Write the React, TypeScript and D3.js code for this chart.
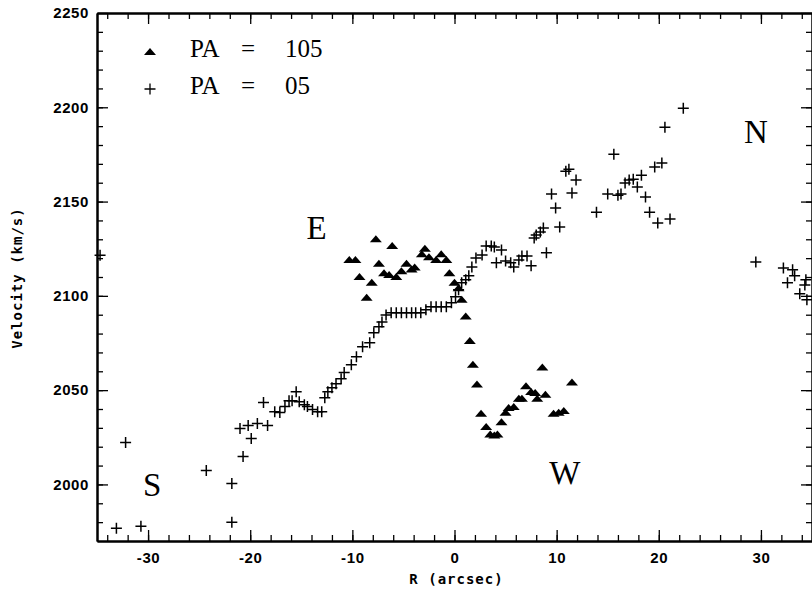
import React, { useEffect, useRef } from "react";
import * as d3 from "d3";

// PA = 105 (triangles): [R arcsec, velocity km/s]
const pa105: [number, number][] = [
  [-10.3, 2119], [-9.7, 2119], [-9.3, 2110], [-8.6, 2099], [-8.1, 2107],
  [-7.7, 2130], [-7.4, 2117], [-6.9, 2112], [-6.4, 2111], [-6.1, 2126.5],
  [-5.7, 2110], [-5.2, 2113], [-4.7, 2117], [-4.2, 2114], [-3.9, 2115],
  [-3.2, 2122], [-2.9, 2125], [-2.5, 2120.5], [-1.8, 2119], [-1.3, 2122],
  [-0.8, 2119], [-0.5, 2112], [0.0, 2107], [0.4, 2104], [0.7, 2098],
  [1.1, 2089], [1.5, 2076], [1.8, 2063.5], [2.2, 2053], [2.6, 2037.5],
  [3.1, 2030.5], [3.5, 2026.5], [3.9, 2026], [4.2, 2026.5], [4.6, 2033],
  [5.0, 2038], [5.3, 2040.5], [5.8, 2041], [6.3, 2045.5], [6.6, 2045.5],
  [7.0, 2052], [7.5, 2049], [7.9, 2048.5], [8.1, 2045.5], [8.6, 2062],
  [8.9, 2047.5], [9.7, 2037.5], [10.2, 2038], [10.7, 2039], [11.5, 2054],
];

// PA = 05 (crosses)
const pa05: [number, number][] = [
  [-34.7, 2121.5], [-33.1, 1976.7], [-32.2, 2022.2], [-30.7, 1977.8],
  [-24.3, 2007.4], [-21.8, 1979.9], [-21.8, 2000.5], [-20.7, 2014.8],
  [-19.9, 2024.3], [-21.0, 2029.6], [-20.2, 2031.2], [-19.3, 2032.3],
  [-18.3, 2031.2], [-18.7, 2043.4], [-17.6, 2038.6], [-17.1, 2038.1],
  [-16.6, 2041.3], [-16.2, 2044.4], [-15.9, 2044.4], [-15.5, 2049.2],
  [-15.2, 2043.9], [-14.7, 2042.3], [-14.4, 2041.3], [-13.9, 2039.7],
  [-13.4, 2038.6], [-13.0, 2038.6], [-12.7, 2046.0], [-12.4, 2049.2],
  [-12.0, 2051.3], [-11.6, 2053.4], [-11.1, 2056.1], [-10.8, 2059.3],
  [-10.1, 2063.5], [-9.6, 2067.7], [-9.0, 2073.0], [-8.3, 2075.1],
  [-7.9, 2080.4], [-7.4, 2083.6], [-7.1, 2086.2], [-6.7, 2089.9],
  [-6.2, 2091.0], [-5.7, 2091.0], [-5.2, 2091.0], [-4.7, 2091.0],
  [-4.2, 2091.0], [-3.8, 2091.0], [-3.3, 2091.0], [-2.8, 2092.6],
  [-2.3, 2094.2], [-1.8, 2094.2], [-1.3, 2094.2], [-0.8, 2094.2],
  [-0.3, 2096.3], [0.1, 2099.5], [0.4, 2103.2], [0.7, 2106.9],
  [1.1, 2108.5], [1.4, 2110.6], [1.7, 2115.3], [2.1, 2120.1],
  [2.7, 2121.7], [3.1, 2126.5], [3.6, 2126.5], [3.9, 2125.9],
  [4.6, 2124.3], [4.1, 2117.5], [5.0, 2118.5], [5.5, 2117.5],
  [5.8, 2115.3], [6.3, 2119.0], [6.6, 2121.2], [7.1, 2121.2],
  [7.5, 2115.9], [7.8, 2130.7], [8.0, 2132.3], [8.4, 2133.9],
  [8.7, 2136.0], [9.0, 2122.8], [9.5, 2154.0], [9.9, 2146.6],
  [10.3, 2136.5], [10.9, 2166.1], [11.2, 2167.2], [11.5, 2154.5],
  [11.9, 2161.4], [13.9, 2144.4], [15.0, 2154.0], [15.6, 2175.1],
  [16.0, 2153.4], [16.3, 2154.0], [16.7, 2159.8], [17.1, 2161.4],
  [17.5, 2161.9], [17.9, 2157.7], [18.3, 2164.0], [18.7, 2152.4],
  [19.1, 2144.4], [19.6, 2168.3], [19.9, 2138.6], [20.3, 2170.4],
  [20.6, 2189.4], [21.1, 2140.7], [22.4, 2199.5], [29.5, 2118.0],
  [32.2, 2114.8], [33.1, 2113.8], [33.3, 2110.6], [32.6, 2106.9],
  [33.8, 2101.1], [34.3, 2105.8], [34.5, 2097.9], [34.4, 2108.5],
];

const xMajor = [-30, -20, -10, 0, 10, 20, 30];
const yMajor = [2000, 2050, 2100, 2150, 2200, 2250];
const legendValues = ["105", "05"];
const regionNames = ["E", "S", "W", "N"];
const regionAt: [number, number][] = [
  [-13.5, 2130], [-29.6, 1993.7], [10.8, 2000], [29.5, 2181],
];

const W = 812;
const H = 591;

const App = () => {
  const svgRef = useRef<SVGSVGElement>(null);

  useEffect(() => {
    const svg = d3.select(svgRef.current);
    svg.selectAll("*").remove();

    const x = d3.scaleLinear().domain([-35, 35]).range([97, 812]);
    const y = d3.scaleLinear().domain([1970, 2250]).range([541, 13]);
    const [x0, x1] = x.range();
    const [y0, y1] = y.range();

    const tickFont = "'Liberation Sans', Arial, sans-serif";
    const monoFont = "'DejaVu Sans Mono', 'Liberation Mono', monospace";
    const serifFont = "'Liberation Serif', 'Times New Roman', serif";

    const xMinor = d3.range(-34, 35, 2);
    const yMinor = d3.range(1980, 2250, 10);

    const styleAxis = (g: any) => {
      g.attr("font-family", null).attr("font-size", null);
      g.selectAll("path.domain").attr("stroke", "#000").attr("stroke-width", 2);
      g.selectAll(".tick line").attr("stroke", "#000").attr("stroke-width", 1.3);
      g.selectAll("text")
        .attr("font-family", tickFont)
        .attr("font-size", 15)
        .attr("font-weight", "bold")
        .attr("letter-spacing", 0.6)
        .attr("fill", "#000");
    };

    const none = () => "";

    // minor ticks on all four sides
    svg.append("g").attr("transform", `translate(0,${y0})`)
      .call(d3.axisBottom(x).tickValues(xMinor).tickSize(-6).tickSizeOuter(0).tickFormat(none)).call(styleAxis);
    svg.append("g").attr("transform", `translate(0,${y1})`)
      .call(d3.axisTop(x).tickValues(xMinor).tickSize(-6).tickSizeOuter(0).tickFormat(none)).call(styleAxis);
    svg.append("g").attr("transform", `translate(${x0},0)`)
      .call(d3.axisLeft(y).tickValues(yMinor).tickSize(-6).tickSizeOuter(0).tickFormat(none)).call(styleAxis);
    svg.append("g").attr("transform", `translate(${x1},0)`)
      .call(d3.axisRight(y).tickValues(yMinor).tickSize(-6).tickSizeOuter(0).tickFormat(none)).call(styleAxis);

    // major ticks
    svg.append("g").attr("transform", `translate(0,${y0})`)
      .call(d3.axisBottom(x).tickValues(xMajor).tickSize(-11).tickSizeOuter(0).tickPadding(11)
        .tickFormat((d: any) => (d < 0 ? "-" + Math.abs(d) : String(d))))
      .call(styleAxis);
    svg.append("g").attr("transform", `translate(0,${y1})`)
      .call(d3.axisTop(x).tickValues(xMajor).tickSize(-11).tickSizeOuter(0).tickFormat(none)).call(styleAxis);
    svg.append("g").attr("transform", `translate(${x0},0)`)
      .call(d3.axisLeft(y).tickValues(yMajor).tickSize(-11).tickSizeOuter(0).tickPadding(8)
        .tickFormat(d3.format("d")))
      .call(styleAxis);
    svg.append("g").attr("transform", `translate(${x1},0)`)
      .call(d3.axisRight(y).tickValues(yMajor).tickSize(-11).tickSizeOuter(0).tickFormat(none)).call(styleAxis);

    // axis titles
    svg.append("text")
      .attr("transform", `translate(22,${(y0 + y1) / 2 + 1}) rotate(-90)`)
      .attr("text-anchor", "middle")
      .attr("font-family", monoFont)
      .attr("font-weight", "bold")
      .attr("font-size", 14)
      .attr("letter-spacing", 1)
      .text("Velocity (km/s)");

    svg.append("text")
      .attr("x", x(0) + 2)
      .attr("y", 584)
      .attr("text-anchor", "middle")
      .attr("font-family", monoFont)
      .attr("font-weight", "bold")
      .attr("font-size", 14)
      .attr("letter-spacing", 1)
      .text("R (arcsec)");

    const triPath = "M-6,3L6,3L0,-4Z";
    const crossPath = "M-5.5,0H5.5M0,-5.5V5.5";

    // PA = 05 crosses
    svg.append("g")
      .selectAll("path")
      .data(pa05)
      .enter()
      .append("path")
      .attr("transform", (d) => `translate(${x(d[0])},${y(d[1])})`)
      .attr("d", crossPath)
      .attr("stroke", "#000")
      .attr("stroke-width", 1.5)
      .attr("fill", "none");

    // PA = 105 triangles
    svg.append("g")
      .selectAll("path")
      .data(pa105)
      .enter()
      .append("path")
      .attr("transform", (d) => `translate(${x(d[0])},${y(d[1])})`)
      .attr("d", triPath)
      .attr("fill", "#000");

    // legend
    const legend = svg.append("g");
    legendValues.forEach((v, i) => {
      const ly = 52 + i * 37;
      legend.append("path")
        .attr("transform", `translate(150,${ly})`)
        .attr("d", i === 0 ? triPath : crossPath)
        .attr("fill", i === 0 ? "#000" : "none")
        .attr("stroke", i === 0 ? "none" : "#000")
        .attr("stroke-width", 1.3);
      const t = legend.append("text")
        .attr("y", ly + 5)
        .attr("font-family", serifFont)
        .attr("font-size", 25);
      t.append("tspan").attr("x", 190).text("PA");
      t.append("tspan").attr("x", 241).text("=");
      t.append("tspan").attr("x", 285).text(v);
    });

    // region letters
    svg.append("g")
      .selectAll("text")
      .data(regionNames)
      .enter()
      .append("text")
      .attr("x", (_, i) => x(regionAt[i][0]))
      .attr("y", (_, i) => y(regionAt[i][1]))
      .attr("text-anchor", "middle")
      .attr("font-family", serifFont)
      .attr("font-size", 33)
      .text((d) => d);
  }, []);

  return (
    <svg
      ref={svgRef}
      width={W}
      height={H}
      style={{ position: "absolute", left: 0, top: 0, background: "#fff" }}
    />
  );
};

export default App;
